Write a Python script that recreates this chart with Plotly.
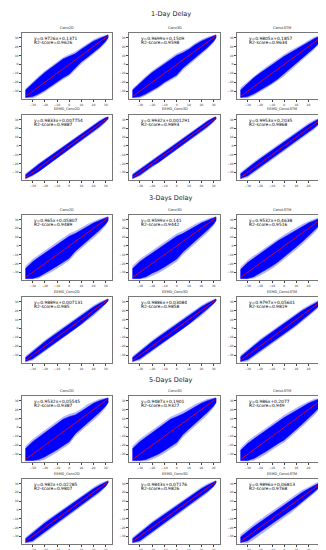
import plotly.graph_objects as go

W, H = 326, 550

# ---------------- data ----------------
SECTION_TITLES = ["1-Day Delay", "3-Days Delay", "5-Days Delay"]
MODEL_NAMES = ["Conv2D", "Conv3D", "ConvLSTM"]
EEMD_NAMES = ["EEMD_Conv2D", "EEMD_Conv3D", "EEMD_ConvLSTM"]
TICKS = [-30, -20, -10, 0, 10, 20, 30]
LINE_ENDS = [-35.7, 31.6]           # y = x reference line (observed range)
X_GRID = [-36, -30, -25, -20, -15, -10, -5, 0, 5, 10, 15, 20, 25, 30, 32]

EQUATIONS = [
    "y=0.9726x+0.1371", "y=0.9699x+0.1509", "y=0.9805x+0.1857",
    "y=0.9833x+0.007754", "y=0.9932x+0.001291", "y=0.9953x+0.2035",
    "y=0.965x+0.05807", "y=0.9599x+0.141", "y=0.9532x+0.4638",
    "y=0.9889x+0.007131", "y=0.9886x+0.03084", "y=0.9797x+0.05601",
    "y=0.9532x+0.05545", "y=0.9487x+0.1901", "y=0.986x+0.2077",
    "y=0.982x+0.02285", "y=0.9843x+0.07176", "y=0.9896x+0.06813",
]
R2_SCORES = [
    "0.9626", "0.9598", "0.9634",
    "0.9887", "0.9893", "0.9868",
    "0.9489", "0.9442", "0.9516",
    "0.985", "0.9858", "0.9819",
    "0.9387", "0.9327", "0.949",
    "0.9807", "0.9826", "0.9768",
]

# cloud envelopes (dense core hi/lo, faint fringe hi/lo) read at X_GRID
d1_conv2d_hi = [-29, -21, -15, -9, -4, 1, 6, 9, 12, 17, 22, 26, 29, 32, 33]
d1_conv2d_lo = [-37, -36, -33, -29, -25, -20, -15, -11, -4, 3, 8, 13, 19, 26, 30]
d1_conv2d_fhi = [-27, -19, -13, -7, -2, 3, 8, 11.5, 14.5, 19, 24, 28, 31, 33, 33.5]
d1_conv2d_flo = [-38, -38, -35, -31, -27, -22, -17, -13, -6.5, 0.5, 6, 11, 17, 24, 29]

d1_conv3d_hi = [-29, -21, -15, -9, -4, 1, 6, 10, 13, 17, 22, 26, 29, 32, 33]
d1_conv3d_lo = [-37, -36, -33, -29, -25, -20, -16, -12, -4, 2, 8, 13, 19, 26, 30]
d1_conv3d_fhi = [-27, -19, -13, -7, -2, 3, 8, 12.5, 15.5, 19, 24, 28, 31, 33, 33.5]
d1_conv3d_flo = [-38, -38, -35, -31, -27, -22, -18, -14, -6.5, -0.5, 6, 11, 17, 24, 29]

d1_convlstm_hi = [-29, -21, -15, -10, -5, 0, 5, 9, 13, 17, 21, 25, 29, 32, 33]
d1_convlstm_lo = [-37, -36, -33, -29, -25, -21, -16, -11, -5, 1, 7, 13, 19, 26, 30]
d1_convlstm_fhi = [-26, -19, -13, -8, -3, 2, 7, 11.5, 15.5, 19, 23, 27, 31, 33, 33.5]
d1_convlstm_flo = [-38, -38, -35, -31, -27, -23, -18, -13, -7.5, -1.5, 5, 11, 17, 24, 29]

e1_conv2d_hi = [-33, -26, -21, -16, -11, -6, -1, 4, 9, 14, 19, 23, 28, 32, 33]
e1_conv2d_lo = [-37, -33, -29, -24, -19, -14, -9, -4, 1, 6, 11, 17, 22, 28, 31]
e1_conv2d_fhi = [-31.5, -24.5, -19.5, -14.5, -9.5, -4.5, 0.5, 5.5, 10.5, 15.5, 20.5, 24.5, 29.5, 33, 33.5]
e1_conv2d_flo = [-38, -34.5, -30.5, -25.5, -20.5, -15.5, -10.5, -5.5, -0.5, 4.5, 9.5, 15.5, 20.5, 27, 30.5]

e1_conv3d_hi = [-33, -27, -22, -16, -11, -6, -1, 4, 9, 14, 18, 23, 28, 32, 33]
e1_conv3d_lo = [-37, -33, -28, -23, -19, -14, -9, -4, 1, 6, 11, 17, 22, 28, 31]
e1_conv3d_fhi = [-31.5, -25.5, -20.5, -14.5, -9.5, -4.5, 0.5, 5.5, 10.5, 15.5, 19.5, 24.5, 29.5, 33, 33.5]
e1_conv3d_flo = [-38, -34.5, -29.5, -24.5, -20.5, -15.5, -10.5, -5.5, -0.5, 4.5, 9.5, 15.5, 20.5, 27, 30.5]

e1_convlstm_hi = [-32, -25, -20, -15, -10, -5, 0, 5, 10, 14, 19, 24, 28, 32, 33]
e1_convlstm_lo = [-37, -34, -30, -25, -20, -15, -10, -5, 0, 5, 10, 16, 21, 27, 31]
e1_convlstm_fhi = [-30, -23, -18, -13, -8, -3, 2, 7, 12, 16, 21, 26, 30, 33, 33.5]
e1_convlstm_flo = [-38, -36, -32, -27, -22, -17, -12, -7, -2, 3, 8, 14, 19, 26, 30]

d3_conv2d_hi = [-26, -18, -13, -8, -3, 2, 7, 11, 14, 18, 22, 26, 29, 32, 33]
d3_conv2d_lo = [-37, -37, -35, -31, -27, -23, -19, -14, -6, 0, 6, 12, 18, 25, 29]
d3_conv2d_fhi = [-23, -15, -10, -5, 0, 5, 10, 14, 17, 21, 25, 28, 31, 33, 33.5]
d3_conv2d_flo = [-38, -38, -37, -34, -30, -26, -22, -17, -9, -3, 3, 9, 15, 23, 28]

d3_conv3d_hi = [-26, -18, -13, -8, -3, 2, 7, 11, 14, 18, 22, 26, 29, 32, 33]
d3_conv3d_lo = [-37, -37, -35, -31, -28, -24, -20, -15, -7, -1, 6, 12, 18, 25, 29]
d3_conv3d_fhi = [-23, -15, -10, -5, 0, 5, 10, 14, 17, 21, 25, 28, 31, 33, 33.5]
d3_conv3d_flo = [-38, -38, -37, -34, -31, -27, -23, -18, -10, -4, 3, 9, 15, 23, 28]

d3_convlstm_hi = [-27, -19, -14, -9, -4, 1, 6, 10, 14, 18, 22, 26, 29, 32, 33]
d3_convlstm_lo = [-37, -37, -35, -31, -27, -23, -18, -13, -7, -1, 5, 11, 18, 25, 29]
d3_convlstm_fhi = [-24, -16, -11, -6, -1, 4, 9, 13, 17, 21, 25, 28, 31, 33, 33.5]
d3_convlstm_flo = [-38, -38, -37, -34, -30, -26, -21, -16, -10, -4, 2, 8, 15, 23, 28]

e3_conv2d_hi = [-33, -26, -21, -15, -10, -5, 0, 5, 10, 14, 19, 24, 28, 32, 33]
e3_conv2d_lo = [-37, -34, -30, -25, -20, -15, -10, -5, 0, 5, 11, 16, 22, 28, 31]
e3_conv2d_fhi = [-31, -24, -19, -13, -8, -3, 2, 7, 12, 16, 21, 26, 30, 33, 33.5]
e3_conv2d_flo = [-38, -36, -32, -27, -22, -17, -12, -7, -2, 3, 9, 14, 20, 27, 30]

e3_conv3d_hi = [-33, -26, -21, -15, -10, -5, 0, 5, 10, 14, 19, 24, 28, 32, 33]
e3_conv3d_lo = [-37, -34, -30, -25, -20, -15, -10, -5, 0, 5, 11, 16, 22, 28, 31]
e3_conv3d_fhi = [-31, -24, -19, -13, -8, -3, 2, 7, 12, 16, 21, 26, 30, 33, 33.5]
e3_conv3d_flo = [-38, -36, -32, -27, -22, -17, -12, -7, -2, 3, 9, 14, 20, 27, 30]

e3_convlstm_hi = [-32, -25, -20, -14, -9, -4, 1, 6, 11, 15, 20, 24, 28, 32, 33]
e3_convlstm_lo = [-37, -35, -31, -26, -21, -16, -11, -6, -1, 4, 10, 15, 21, 27, 31]
e3_convlstm_fhi = [-30, -23, -18, -12, -7, -2, 3, 8, 13, 17, 22, 26, 30, 33, 33.5]
e3_convlstm_flo = [-38, -37, -33, -28, -23, -18, -13, -8, -3, 2, 8, 13, 19, 26, 30]

d5_conv2d_hi = [-24, -16, -11, -6, -1, 4, 9, 12, 14, 18, 23, 27, 30, 32, 33]
d5_conv2d_lo = [-37, -37, -36, -33, -29, -25, -21, -16, -7, -1, 5, 11, 17, 24, 28]
d5_conv2d_fhi = [-21, -13, -8, -3, 2, 7, 12, 15, 17, 21, 26, 29, 32, 33, 33.5]
d5_conv2d_flo = [-38, -38, -38, -36, -32, -28, -24, -19, -10, -4, 2, 8, 14, 22, 27]

d5_conv3d_hi = [-24, -16, -11, -6, -1, 4, 9, 12, 15, 19, 23, 27, 30, 32, 33]
d5_conv3d_lo = [-37, -37, -36, -33, -30, -26, -22, -17, -8, -2, 5, 11, 17, 24, 28]
d5_conv3d_fhi = [-21, -13, -8, -3, 2, 7, 12, 15, 18, 22, 26, 29, 32, 33, 33.5]
d5_conv3d_flo = [-38, -38, -38, -36, -33, -29, -25, -20, -11, -5, 2, 8, 14, 22, 27]

d5_convlstm_hi = [-26, -18, -13, -8, -3, 2, 7, 11, 15, 19, 23, 27, 30, 32, 33]
d5_convlstm_lo = [-37, -37, -35, -31, -27, -23, -18, -14, -8, -2, 4, 10, 17, 24, 28]
d5_convlstm_fhi = [-23, -15, -10, -5, 0, 5, 10, 14, 18, 22, 26, 29, 32, 33, 33.5]
d5_convlstm_flo = [-38, -38, -37, -34, -30, -26, -21, -17, -11, -5, 1, 7, 14, 22, 27]

e5_conv2d_hi = [-33, -26, -21, -15, -10, -5, 0, 5, 10, 15, 19, 24, 28, 32, 33]
e5_conv2d_lo = [-37, -35, -30, -25, -20, -15, -10, -5, 0, 5, 10, 16, 21, 27, 31]
e5_conv2d_fhi = [-31, -24, -19, -13, -8, -3, 2, 7, 12, 17, 21, 26, 30, 33, 33.5]
e5_conv2d_flo = [-38, -37, -32, -27, -22, -17, -12, -7, -2, 3, 8, 14, 19, 26, 30]

e5_conv3d_hi = [-33, -26, -21, -15, -10, -5, 0, 5, 10, 15, 19, 24, 28, 32, 33]
e5_conv3d_lo = [-37, -35, -30, -25, -20, -15, -10, -5, 0, 5, 10, 16, 21, 27, 31]
e5_conv3d_fhi = [-31, -24, -19, -13, -8, -3, 2, 7, 12, 17, 21, 26, 30, 33, 33.5]
e5_conv3d_flo = [-38, -37, -32, -27, -22, -17, -12, -7, -2, 3, 8, 14, 19, 26, 30]

e5_convlstm_hi = [-31, -24, -19, -14, -9, -4, 1, 6, 11, 15, 20, 24, 28, 32, 33]
e5_convlstm_lo = [-37, -35, -31, -26, -21, -16, -11, -6, -1, 4, 9, 15, 21, 27, 31]
e5_convlstm_fhi = [-28, -21, -16, -11, -6, -1, 4, 9, 14, 18, 23, 26, 30, 33, 33.5]
e5_convlstm_flo = [-38, -38, -34, -29, -24, -19, -14, -9, -4, 1, 7, 13, 19, 26, 30]

PANELS = [
    (d1_conv2d_hi, d1_conv2d_lo, d1_conv2d_fhi, d1_conv2d_flo),
    (d1_conv3d_hi, d1_conv3d_lo, d1_conv3d_fhi, d1_conv3d_flo),
    (d1_convlstm_hi, d1_convlstm_lo, d1_convlstm_fhi, d1_convlstm_flo),
    (e1_conv2d_hi, e1_conv2d_lo, e1_conv2d_fhi, e1_conv2d_flo),
    (e1_conv3d_hi, e1_conv3d_lo, e1_conv3d_fhi, e1_conv3d_flo),
    (e1_convlstm_hi, e1_convlstm_lo, e1_convlstm_fhi, e1_convlstm_flo),
    (d3_conv2d_hi, d3_conv2d_lo, d3_conv2d_fhi, d3_conv2d_flo),
    (d3_conv3d_hi, d3_conv3d_lo, d3_conv3d_fhi, d3_conv3d_flo),
    (d3_convlstm_hi, d3_convlstm_lo, d3_convlstm_fhi, d3_convlstm_flo),
    (e3_conv2d_hi, e3_conv2d_lo, e3_conv2d_fhi, e3_conv2d_flo),
    (e3_conv3d_hi, e3_conv3d_lo, e3_conv3d_fhi, e3_conv3d_flo),
    (e3_convlstm_hi, e3_convlstm_lo, e3_convlstm_fhi, e3_convlstm_flo),
    (d5_conv2d_hi, d5_conv2d_lo, d5_conv2d_fhi, d5_conv2d_flo),
    (d5_conv3d_hi, d5_conv3d_lo, d5_conv3d_fhi, d5_conv3d_flo),
    (d5_convlstm_hi, d5_convlstm_lo, d5_convlstm_fhi, d5_convlstm_flo),
    (e5_conv2d_hi, e5_conv2d_lo, e5_conv2d_fhi, e5_conv2d_flo),
    (e5_conv3d_hi, e5_conv3d_lo, e5_conv3d_fhi, e5_conv3d_flo),
    (e5_convlstm_hi, e5_convlstm_lo, e5_convlstm_fhi, e5_convlstm_flo),
]

# ---------------- layout geometry (pixels) ----------------
COL_PX = [(14, 104), (121, 212), (229, 319)]
ROW_PX = [(25, 91), (107, 172), (207, 272), (289, 355), (388, 454), (471, 536)]
SECTION_Y_PX = [6, 190, 372]
AX_RANGE = [-38.8, 35.2]

FONT = "DejaVu Sans"
CORE = "rgb(0,0,255)"
FRINGE = "rgba(0,0,255,0.3)"


def xf(px):
    return px / W


def yf(px):
    return 1 - px / H


fig = go.Figure()
layout = dict(
    width=W, height=H, margin=dict(l=0, r=0, t=0, b=0),
    paper_bgcolor="white", plot_bgcolor="white", showlegend=False,
    font=dict(family=FONT, color="#222"),
)
annotations = []

for i, (hi, lo, fhi, flo) in enumerate(PANELS):
    r, c = divmod(i, 3)
    k = i + 1
    xa = "x" if k == 1 else f"x{k}"
    ya = "y" if k == 1 else f"y{k}"
    x0, x1 = COL_PX[c]
    top, bot = ROW_PX[r]
    axis_style = dict(
        range=AX_RANGE, tickvals=TICKS, ticks="outside", ticklen=2,
        tickwidth=0.6, tickcolor="#444",
        tickfont=dict(size=3, family=FONT, color="#333"),
        showgrid=False, zeroline=False, showline=True, mirror=True,
        linecolor="#777", linewidth=0.8,
    )
    layout[f"xaxis{'' if k == 1 else k}"] = dict(
        domain=[xf(x0), xf(x1)], anchor=ya, **axis_style)
    layout[f"yaxis{'' if k == 1 else k}"] = dict(
        domain=[yf(bot), yf(top)], anchor=xa, **axis_style)
    # faint fringe polygon
    fig.add_trace(go.Scatter(
        x=X_GRID + X_GRID[::-1], y=fhi + flo[::-1], xaxis=xa, yaxis=ya,
        mode="lines", fill="toself", fillcolor=FRINGE, line=dict(width=0),
        hoverinfo="skip",
    ))
    # dense core polygon
    fig.add_trace(go.Scatter(
        x=X_GRID + X_GRID[::-1], y=hi + lo[::-1], xaxis=xa, yaxis=ya,
        mode="lines", fill="toself", fillcolor=CORE, line=dict(width=0.5, color=CORE),
        hoverinfo="skip",
    ))
    # y = x line
    fig.add_trace(go.Scatter(
        x=LINE_ENDS, y=LINE_ENDS, xaxis=xa, yaxis=ya, mode="lines",
        line=dict(color="red", width=0.8), hoverinfo="skip",
    ))
    name = (EEMD_NAMES if r % 2 else MODEL_NAMES)[c]
    annotations.append(dict(
        text=name, x=xf((x0 + x1) / 2), y=yf(top - 1.5), xref="paper", yref="paper",
        xanchor="center", yanchor="bottom", showarrow=False,
        font=dict(size=3.5, family=FONT, color="#222"),
    ))
    annotations.append(dict(
        text=EQUATIONS[i], x=xf(x0 + 10), y=yf(top + 1.2), xref="paper", yref="paper",
        xanchor="left", yanchor="top", showarrow=False,
        font=dict(size=4.4, family=FONT, color="black"),
    ))
    annotations.append(dict(
        text="R2-score=" + R2_SCORES[i], x=xf(x0 + 10), y=yf(top + 4.8), xref="paper",
        yref="paper", xanchor="left", yanchor="top", showarrow=False,
        font=dict(size=4.4, family=FONT, color="black"),
    ))

for s, title in enumerate(SECTION_TITLES):
    annotations.append(dict(
        text=title, x=0.5, y=yf(SECTION_Y_PX[s]), xref="paper", yref="paper",
        xanchor="center", yanchor="middle", showarrow=False,
        font=dict(size=6.5, family=FONT, color="#222"),
    ))

layout["annotations"] = annotations
fig.update_layout(**layout)
fig.write_html("out.html")
